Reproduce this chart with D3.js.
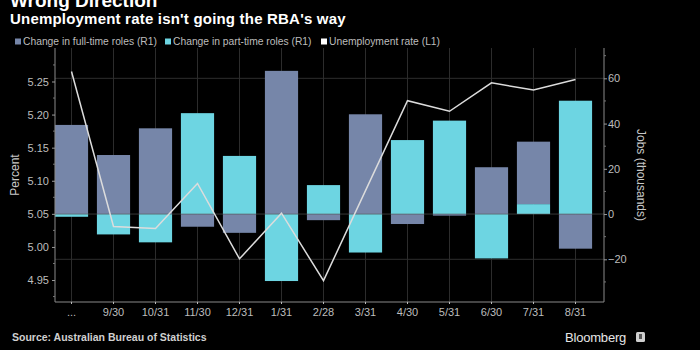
<!DOCTYPE html>
<html>
<head>
<meta charset="utf-8">
<script src="https://cdn.jsdelivr.net/npm/d3@7"></script>
<style>
    body { margin: 0; background: #000; }
    svg { display: block; font-family: "Liberation Sans", Arial, sans-serif; }
    .tick-label { fill: #bdbdbd; font-size: 10.5px; }
    .axes-label { fill: #c8c8c8; font-size: 12px; }
    .legend-text { fill: #bcbcbc; font-size: 10.3px; }
</style>
</head>
<body>
<div id="chart"></div>
<script>
// data
const categories = ['...', '9/30', '10/31', '11/30', '12/31', '1/31', '2/28', '3/31', '4/30', '5/31', '6/30', '7/31', '8/31'];
const fullTime = [39.4, 26.1, 37.9, -5.6, -8.3, 63.3, -2.7, 44.1, -4.4, -0.7, 20.7, 27.6, -15.3];
const partTime = [-1.2, -9.0, -12.5, 44.6, 25.7, -29.6, 12.8, -17.0, 32.7, 41.3, -19.6, 4.4, 50.1];
const unemployment = [5.265, 5.031, 5.028, 5.096, 4.982, 5.051, 4.949, 5.085, 5.221, 5.205, 5.248, 5.237, 5.253];
const leftTicks = [4.95, 5.00, 5.05, 5.10, 5.15, 5.20, 5.25];
const rightTicks = [-20, 0, 20, 40, 60];
const legendItems = ['Change in full-time roles (R1)', 'Change in part-time roles (R1)', 'Unemployment rate (L1)'];

let width = 700,
    height = 350,
    plot = {left: 55, right: 604, top: 48, bottom: 302},
    fullColor = '#7686a9',
    partColor = '#6dd5e2',
    lineColor = '#dcdcdc';

let svg = d3.select('#chart')
    .append('svg')
    .attr('width', width)
    .attr('height', height)
    .style('background', '#000');

// scales
let xScale = d3.scaleBand()
        .domain(categories)
        .range([50.5, 596.5])
        .paddingInner(0.21)
        .paddingOuter(0.105),
    center = d => xScale(d) + xScale.bandwidth() / 2,
    yLeft = d3.scaleLinear()
        .domain([4.9168, 5.3006])
        .range([plot.bottom, plot.top]),
    yRight = d3.scaleLinear()
        .domain([-38.87, 73.4])
        .range([plot.bottom, plot.top]);

// title (cut off at the top, as in the original) + subtitle
svg.append('text')
    .attr('x', 10).attr('y', 7)
    .attr('fill', '#fff')
    .style('font-size', '19px').style('font-weight', 'bold')
    .text('Wrong Direction');

svg.append('text')
    .attr('x', 10).attr('y', 24)
    .attr('fill', '#fff')
    .style('font-size', '15px').style('font-weight', 'bold')
    .style('letter-spacing', '0.2px')
    .text("Unemployment rate isn't going the RBA's way");

// legend
let legendX = [15, 165, 321],
    legendColors = [fullColor, partColor, '#fff'];
legendItems.forEach((t, i) => {
    svg.append('rect')
        .attr('x', legendX[i]).attr('y', 38.5)
        .attr('width', 6).attr('height', 6)
        .attr('fill', legendColors[i]);
    svg.append('text')
        .classed('legend-text', true)
        .attr('x', legendX[i] + 8).attr('y', 45)
        .text(t);
});

// vertical grid lines at each category
svg.append('g')
    .selectAll('line')
    .data(categories).enter()
    .append('line')
    .attr('x1', d => center(d)).attr('x2', d => center(d))
    .attr('y1', plot.top).attr('y2', plot.bottom)
    .attr('stroke', '#2c2c2c').attr('stroke-width', 1);

// horizontal grid lines
svg.append('g')
    .selectAll('line')
    .data([60, -20]).enter()
    .append('line')
    .attr('x1', plot.left).attr('x2', plot.right)
    .attr('y1', d => yRight(d)).attr('y2', d => yRight(d))
    .attr('stroke', '#2e2e2e').attr('stroke-width', 1);

// stacked bars, diverging so negatives go below zero
let table = categories.map((c, i) => ({cat: c, part: partTime[i], full: fullTime[i]})),
    series = d3.stack()
        .keys(['part', 'full'])
        .offset(d3.stackOffsetDiverging)(table),
    colors = {part: partColor, full: fullColor};

svg.append('g')
    .selectAll('g')
    .data(series).enter()
    .append('g')
    .attr('fill', d => colors[d.key])
    .selectAll('rect')
    .data(d => d).enter()
    .append('rect')
    .attr('x', d => xScale(d.data.cat))
    .attr('width', xScale.bandwidth())
    .attr('y', d => yRight(Math.max(d[0], d[1])))
    .attr('height', d => Math.abs(yRight(d[0]) - yRight(d[1])));

// zero line
svg.append('line')
    .attr('x1', plot.left).attr('x2', plot.right)
    .attr('y1', yRight(0)).attr('y2', yRight(0))
    .attr('stroke', '#5a5a5a').attr('stroke-width', 1)
    .attr('opacity', 0.6);

// unemployment line
svg.append('path')
    .datum(unemployment)
    .attr('fill', 'none')
    .attr('stroke', lineColor)
    .attr('stroke-width', 1.5)
    .attr('d', d3.line()
        .x((d, i) => center(categories[i]))
        .y(d => yLeft(d)));

// frame: left, bottom, right axis lines
svg.append('path')
    .attr('d', `M${plot.left},${plot.top}V${plot.bottom}H${plot.right}V${plot.top}`)
    .attr('fill', 'none')
    .attr('stroke', '#8a8a8a')
    .attr('stroke-width', 1);

// left axis
let leftAxis = svg.append('g')
    .attr('transform', `translate(${plot.left},0)`)
    .call(d3.axisLeft(yLeft).tickValues(leftTicks).tickFormat(d3.format('.2f')).tickSize(3).tickPadding(3));
leftAxis.select('.domain').remove();
leftAxis.selectAll('line').attr('stroke', '#9a9a9a');
leftAxis.selectAll('text').attr('class', 'tick-label').attr('fill', null).style('font-size', '11px');

// left minor ticks
svg.append('g')
    .selectAll('line')
    .data(leftTicks.map(v => v + 0.025).concat([4.925])).enter()
    .append('line')
    .attr('x1', plot.left - 2).attr('x2', plot.left)
    .attr('y1', d => yLeft(d)).attr('y2', d => yLeft(d))
    .attr('stroke', '#777');

// right axis
let rightAxis = svg.append('g')
    .attr('transform', `translate(${plot.right},0)`)
    .call(d3.axisRight(yRight).tickValues(rightTicks).tickSize(3).tickPadding(1));
rightAxis.select('.domain').remove();
rightAxis.selectAll('line').attr('stroke', '#9a9a9a');
rightAxis.selectAll('text').attr('class', 'tick-label').attr('fill', null).style('font-size', '11px');

// right minor ticks
svg.append('g')
    .selectAll('line')
    .data([-30, -10, 10, 30, 50, 70]).enter()
    .append('line')
    .attr('x1', plot.right).attr('x2', plot.right + 2)
    .attr('y1', d => yRight(d)).attr('y2', d => yRight(d))
    .attr('stroke', '#777');

// x axis
let xAxis = svg.append('g')
    .attr('transform', `translate(0,${plot.bottom})`)
    .call(d3.axisBottom(xScale).tickSize(2).tickPadding(4));
xAxis.select('.domain').remove();
xAxis.selectAll('line').attr('stroke', '#bbb');
xAxis.selectAll('text').attr('class', 'tick-label').attr('fill', null).style('font-size', '11px');

// axis titles
svg.append('text')
    .classed('axes-label', true)
    .attr('text-anchor', 'middle')
    .attr('transform', 'translate(19,175) rotate(-90)')
    .text('Percent');

svg.append('text')
    .classed('axes-label', true)
    .attr('text-anchor', 'middle')
    .attr('transform', 'translate(637,175) rotate(90)')
    .text('Jobs (thousands)');

// footer
svg.append('text')
    .attr('x', 12).attr('y', 341)
    .attr('fill', '#d0d0d0')
    .style('font-size', '10.5px').style('font-weight', 'bold')
    .text('Source: Australian Bureau of Statistics');

svg.append('text')
    .attr('x', 565).attr('y', 342)
    .attr('fill', '#e6e6e6')
    .style('font-size', '13px')
    .style('letter-spacing', '-0.2px')
    .text('Bloomberg');

svg.append('rect')
    .attr('x', 636).attr('y', 332)
    .attr('width', 9).attr('height', 10)
    .attr('rx', 1.5)
    .attr('fill', '#cfcfcf');
svg.append('rect')
    .attr('x', 639).attr('y', 334)
    .attr('width', 3).attr('height', 5)
    .attr('fill', '#555');
</script>
</body>
</html>
